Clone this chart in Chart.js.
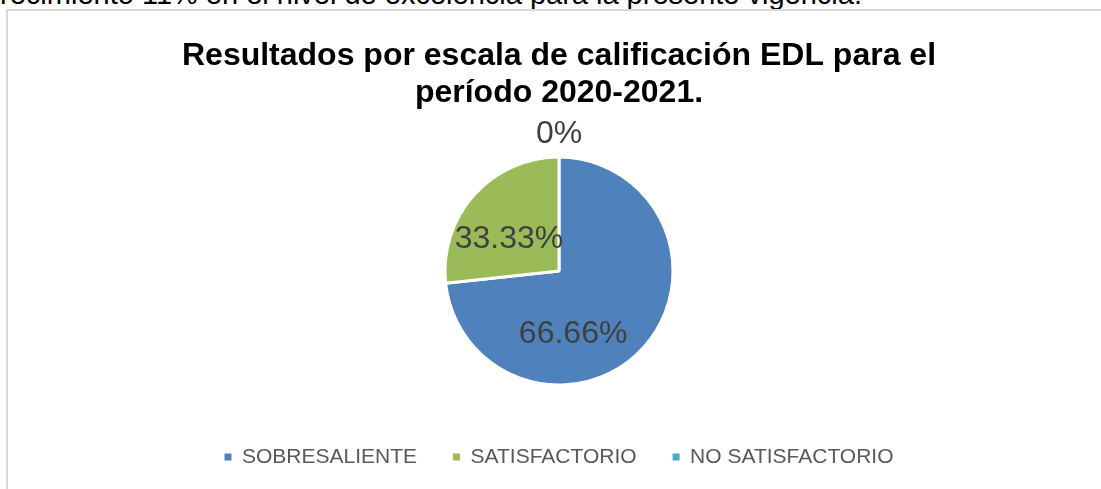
<!DOCTYPE html>
<html>
<head>
<meta charset="utf-8">
<script src="https://cdn.jsdelivr.net/npm/chart.js@4/dist/chart.umd.min.js"></script>
<style>
  html, body { margin: 0; padding: 0; background: #fff; overflow: hidden; }
  #page { position: relative; width: 1101px; height: 489px; overflow: hidden; }
  #doctext { position: absolute; right: 239px; top: -20.5px; font: 29px "Liberation Sans", Arial, sans-serif; line-height: 29px; color: #000; white-space: nowrap; }
  #frame { position: absolute; left: 6px; top: 9px; width: 1300px; height: 700px; border: 2px solid #d9d9d9; }
  #wrap { position: absolute; left: 0; top: 0; width: 1101px; height: 489px; }
</style>
</head>
<body>
<div id="page">
  <div id="doctext">crecimiento 11% en el nivel de excelencia para la presente vigencia.</div>
  <div id="frame"></div>
  <div id="wrap"><canvas id="pie_chart"></canvas></div>
</div>
<script>
var titleLines = ['Resultados por escala de calificación EDL para el', 'período 2020-2021.'];
var categories = ['SOBRESALIENTE', 'SATISFACTORIO', 'NO SATISFACTORIO'];
// slice sizes as drawn in the picture; the printed labels differ from them
var values = [73.3, 26.7, 0];
var valueLabels = ['66.66%', '33.33%', '0%'];
var colors = ['#4f81bd', '#9bbb59', '#4bacc6'];

// draws the percentage labels on (or outside) each slice
var sliceLabels = {
  id: 'sliceLabels',
  afterDatasetsDraw: function(chart, args, opts) {
    var ctx = chart.ctx;
    var meta = chart.getDatasetMeta(0);
    ctx.save();
    ctx.font = opts.font;
    ctx.fillStyle = opts.color;
    ctx.textAlign = 'center';
    ctx.textBaseline = 'middle';
    meta.data.forEach(function(arc, i) {
      var p = arc.getProps(['x', 'y', 'startAngle', 'endAngle', 'outerRadius'], true);
      var mid = (p.startAngle + p.endAngle) / 2 + opts.angleShift[i] * Math.PI / 180;
      var r = p.outerRadius * opts.radius[i];
      ctx.fillText(valueLabels[i], p.x + Math.cos(mid) * r, p.y + Math.sin(mid) * r);
    });
    ctx.restore();
  }
};

var ctx = document.getElementById('pie_chart').getContext('2d');
var chart = new Chart(ctx, {
  type: 'pie',
  data: {
    labels: categories,
    datasets: [{
      data: values,
      backgroundColor: colors,
      borderColor: '#ffffff',
      borderWidth: 3,
      radius: 114
    }]
  },
  plugins: [sliceLabels],
  options: {
    responsive: true,
    maintainAspectRatio: false,
    animation: false,
    events: [],
    layout: { padding: { left: 17, top: 0, bottom: 11.5, right: 0 } },
    plugins: {
      title: {
        display: true,
        text: titleLines,
        color: '#000000',
        font: { family: '"Liberation Sans", Arial, sans-serif', size: 32, weight: 'bold', lineHeight: 1.15 },
        padding: { top: 37.5, bottom: 20.4 }
      },
      legend: {
        position: 'bottom',
        labels: {
          color: '#595959',
          font: { family: '"Liberation Sans", Arial, sans-serif', size: 21 },
          boxWidth: 7,
          boxHeight: 7,
          padding: 36,
          generateLabels: function(chart) {
            var items = Chart.overrides.pie.plugins.legend.labels.generateLabels(chart);
            items.forEach(function(it) { it.lineWidth = 0; });
            return items;
          }
        }
      },
      tooltip: { enabled: false },
      sliceLabels: {
        font: '32px "Liberation Sans", Arial, sans-serif',
        color: '#404040',
        angleShift: [35.5, -9.4, 0],
        radius: [0.57, 0.52, 1.2]
      }
    }
  }
});
</script>
</body>
</html>
